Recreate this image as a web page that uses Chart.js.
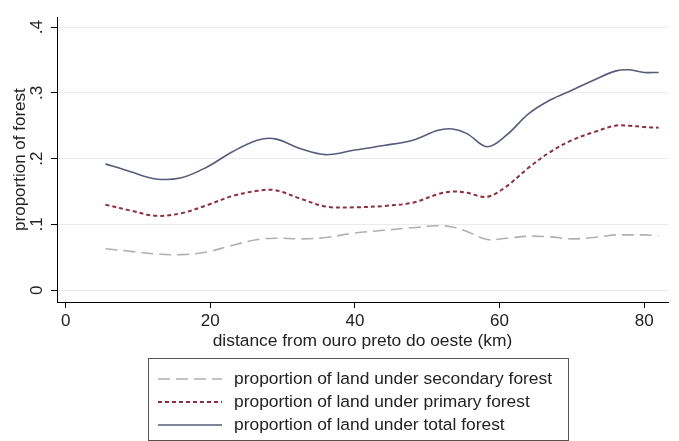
<!DOCTYPE html>
<html>
<head>
<meta charset="utf-8">
<script src="https://cdn.jsdelivr.net/npm/chart.js@4.4.1/dist/chart.umd.min.js"></script>
<style>
  html, body { margin: 0; padding: 0; background: #fff; }
</style>
</head>
<body>
<canvas id="c" width="679" height="441"></canvas>
<script>
// values
const distanceKm = [5.5, 9, 12.5, 16, 19.5, 23, 26.5, 29, 32.5, 36, 40, 44, 48, 51.5, 53.5, 55.5, 58.3, 61, 64, 67, 70, 73, 76, 78, 80, 82];
const secondaryForest = [0.063, 0.059, 0.055, 0.054, 0.058, 0.068, 0.077, 0.079, 0.078, 0.080, 0.087, 0.091, 0.095, 0.098, 0.096, 0.089, 0.077, 0.079, 0.082, 0.081, 0.078, 0.080, 0.084, 0.084, 0.084, 0.083];
const primaryForest = [0.130, 0.121, 0.113, 0.117, 0.129, 0.143, 0.151, 0.152, 0.139, 0.127, 0.126, 0.128, 0.133, 0.146, 0.150, 0.148, 0.142, 0.158, 0.186, 0.210, 0.228, 0.240, 0.250, 0.250, 0.248, 0.247];
const totalForest = [0.192, 0.180, 0.169, 0.171, 0.187, 0.210, 0.228, 0.230, 0.215, 0.206, 0.213, 0.220, 0.228, 0.243, 0.245, 0.238, 0.218, 0.236, 0.268, 0.289, 0.304, 0.319, 0.333, 0.335, 0.331, 0.331];
const seriesLabels = [
  'proportion of land under secondary forest',
  'proportion of land under primary forest',
  'proportion of land under total forest'
];
const xTicks = [0, 20, 40, 60, 80];
const yTicks = [0, 0.1, 0.2, 0.3, 0.4];

const FONT = 'Arial, "Liberation Sans", sans-serif';
const toPoints = ys => distanceKm.map((x, i) => ({ x, y: ys[i] }));

// Stata-like boxed legend under the x axis title
const boxLegend = {
  id: 'boxLegend',
  afterDraw(chart) {
    const ctx = chart.ctx;
    ctx.save();
    ctx.strokeStyle = '#555';
    ctx.lineWidth = 1;
    ctx.strokeRect(148.5, 358.5, 420, 82);
    chart.data.datasets.forEach((ds, i) => {
      const y = 379 + i * 23;
      ctx.beginPath();
      ctx.setLineDash(ds.borderDash || []);
      ctx.strokeStyle = ds.borderColor;
      ctx.lineWidth = ds.borderWidth;
      ctx.moveTo(158, y);
      ctx.lineTo(222, y);
      ctx.stroke();
      ctx.setLineDash([]);
      ctx.fillStyle = '#222';
      ctx.font = '17.4px ' + FONT;
      ctx.textBaseline = 'middle';
      ctx.fillText(ds.label, 234, y);
    });
    ctx.restore();
  }
};

new Chart(document.getElementById('c'), {
  type: 'line',
  data: {
    datasets: [
      { label: seriesLabels[0], data: toPoints(secondaryForest), borderColor: '#b0b0b0', borderWidth: 1.6, borderDash: [12, 6] },
      { label: seriesLabels[1], data: toPoints(primaryForest), borderColor: '#8c3040', borderWidth: 2, borderDash: [4, 3] },
      { label: seriesLabels[2], data: toPoints(totalForest), borderColor: '#575c7a', borderWidth: 1.6 }
    ]
  },
  options: {
    responsive: false,
    animation: false,
    layout: { padding: { top: 8, right: 11, bottom: 89, left: 0 } },
    elements: { point: { radius: 0 }, line: { tension: 0.35 } },
    plugins: { legend: { display: false }, tooltip: { enabled: false } },
    scales: {
      x: {
        type: 'linear',
        min: -1.2,
        max: 83.3,
        afterBuildTicks: s => { s.ticks = xTicks.map(v => ({ value: v })); },
        afterFit: s => { s.height = 50; },
        ticks: { color: '#222', font: { family: FONT, size: 17 }, padding: 3, maxRotation: 0 },
        grid: { drawOnChartArea: false, tickLength: 6, tickColor: '#000' },
        border: { color: '#000' },
        title: { display: true, text: 'distance from ouro preto do oeste (km)', color: '#222', font: { family: FONT, size: 17.4 }, padding: { top: 0, bottom: 0 } }
      },
      y: {
        min: -0.018,
        max: 0.415,
        afterBuildTicks: s => { s.ticks = yTicks.map(v => ({ value: v })); },
        afterFit: s => { s.width = 57; },
        ticks: {
          color: '#222',
          font: { family: FONT, size: 17 },
          minRotation: 90,
          maxRotation: 90,
          crossAlign: 'center',
          padding: 7,
          callback: v => v === 0 ? '0' : v.toFixed(1).replace(/^0/, '')
        },
        grid: { color: '#ebebeb', tickLength: 6, tickColor: '#000' },
        border: { color: '#000' },
        title: { display: true, text: 'proportion of forest', color: '#222', font: { family: FONT, size: 17 }, padding: { top: 10, bottom: 0 } }
      }
    }
  },
  plugins: [boxLegend]
});
</script>
</body>
</html>
